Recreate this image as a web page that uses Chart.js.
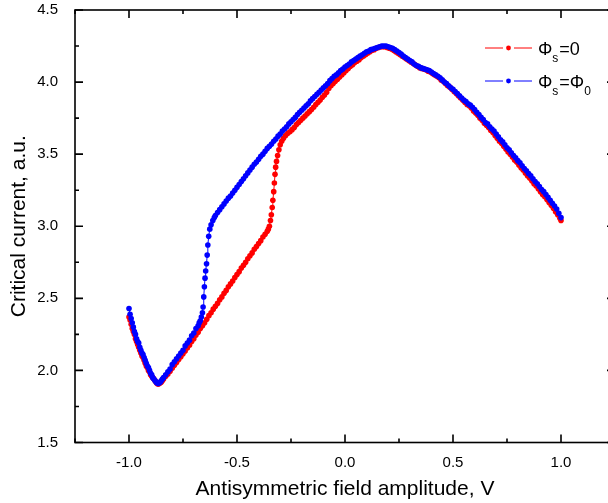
<!DOCTYPE html>
<html>
<head>
<meta charset="utf-8">
<script src="https://cdn.jsdelivr.net/npm/chart.js@4/dist/chart.umd.min.js"></script>
<style>
  html, body { margin: 0; padding: 0; background: #fff; overflow: hidden; }
  #wrap { width: 620px; height: 503px; }
</style>
</head>
<body>
<div id="wrap"><canvas id="c" width="620" height="503"></canvas></div>
<script>
// ---------- data ----------
const seriesNames = ["Φs=0", "Φs=Φ0"];

const redX = [-1.000,-0.995,-0.990,-0.985,-0.980,-0.975,-0.970,-0.965,-0.960,-0.955,-0.950,-0.945,-0.940,-0.935,-0.930,-0.925,-0.920,-0.915,-0.910,-0.905,-0.900,-0.895,-0.890,-0.885,-0.880,-0.875,-0.870,-0.865,-0.860,-0.855,-0.850,-0.845,-0.840,-0.830,-0.820,-0.810,-0.800,-0.790,-0.780,-0.770,-0.760,-0.750,-0.740,-0.730,-0.720,-0.710,-0.700,-0.690,-0.680,-0.670,-0.660,-0.650,-0.640,-0.630,-0.620,-0.610,-0.600,-0.590,-0.580,-0.570,-0.560,-0.550,-0.540,-0.530,-0.520,-0.510,-0.500,-0.490,-0.480,-0.470,-0.460,-0.450,-0.440,-0.430,-0.420,-0.410,-0.400,-0.390,-0.380,-0.370,-0.360,-0.355,-0.350,-0.345,-0.341,-0.337,-0.334,-0.330,-0.327,-0.324,-0.321,-0.317,-0.312,-0.306,-0.300,-0.293,-0.285,-0.275,-0.265,-0.255,-0.245,-0.235,-0.225,-0.215,-0.205,-0.195,-0.185,-0.175,-0.165,-0.155,-0.145,-0.135,-0.125,-0.115,-0.105,-0.095,-0.085,-0.075,-0.065,-0.055,-0.045,-0.035,-0.025,-0.015,-0.005,0.005,0.015,0.025,0.035,0.045,0.055,0.065,0.075,0.085,0.095,0.105,0.115,0.125,0.135,0.145,0.155,0.165,0.175,0.185,0.195,0.205,0.215,0.225,0.235,0.245,0.255,0.265,0.275,0.285,0.295,0.305,0.315,0.325,0.335,0.345,0.355,0.365,0.375,0.385,0.395,0.405,0.415,0.425,0.435,0.445,0.455,0.465,0.475,0.485,0.495,0.505,0.515,0.525,0.535,0.545,0.555,0.565,0.575,0.585,0.595,0.605,0.615,0.625,0.635,0.645,0.655,0.665,0.675,0.685,0.695,0.705,0.715,0.725,0.735,0.745,0.755,0.765,0.775,0.785,0.795,0.805,0.815,0.825,0.835,0.845,0.855,0.865,0.875,0.885,0.895,0.905,0.915,0.925,0.935,0.945,0.955,0.965,0.975,0.985,0.995,1.000];
const redY = [2.37,2.35,2.32,2.29,2.27,2.25,2.22,2.20,2.18,2.16,2.14,2.12,2.10,2.09,2.07,2.05,2.03,2.02,2.00,1.99,1.97,1.96,1.95,1.94,1.93,1.92,1.91,1.905,1.91,1.915,1.92,1.93,1.94,1.96,1.975,1.995,2.015,2.035,2.055,2.075,2.095,2.115,2.135,2.155,2.175,2.20,2.22,2.245,2.265,2.29,2.31,2.33,2.355,2.38,2.40,2.425,2.445,2.465,2.49,2.51,2.535,2.555,2.58,2.60,2.62,2.645,2.665,2.685,2.71,2.73,2.75,2.775,2.795,2.815,2.84,2.86,2.88,2.90,2.925,2.945,2.965,2.98,3.00,3.04,3.08,3.13,3.18,3.24,3.30,3.36,3.41,3.45,3.49,3.53,3.565,3.59,3.61,3.63,3.645,3.655,3.67,3.685,3.705,3.72,3.735,3.75,3.765,3.78,3.795,3.81,3.825,3.845,3.86,3.875,3.895,3.91,3.93,3.955,3.975,3.99,4.005,4.02,4.035,4.05,4.065,4.08,4.095,4.11,4.12,4.135,4.145,4.155,4.17,4.18,4.19,4.20,4.21,4.22,4.225,4.235,4.24,4.245,4.245,4.245,4.24,4.235,4.23,4.22,4.21,4.20,4.19,4.18,4.17,4.16,4.15,4.14,4.13,4.12,4.11,4.10,4.095,4.09,4.085,4.075,4.07,4.06,4.05,4.04,4.03,4.015,4.005,3.99,3.975,3.965,3.95,3.935,3.92,3.905,3.89,3.875,3.86,3.845,3.835,3.82,3.80,3.785,3.77,3.75,3.735,3.715,3.70,3.685,3.665,3.65,3.63,3.61,3.59,3.575,3.555,3.535,3.515,3.50,3.48,3.46,3.445,3.425,3.405,3.39,3.37,3.35,3.335,3.315,3.295,3.28,3.26,3.24,3.22,3.205,3.185,3.165,3.145,3.125,3.10,3.08,3.055,3.04];

const blueX = [-1.000,-0.995,-0.990,-0.985,-0.980,-0.975,-0.970,-0.965,-0.960,-0.955,-0.950,-0.945,-0.940,-0.935,-0.930,-0.925,-0.920,-0.915,-0.910,-0.905,-0.900,-0.895,-0.890,-0.885,-0.880,-0.875,-0.870,-0.865,-0.860,-0.855,-0.850,-0.845,-0.840,-0.830,-0.820,-0.810,-0.800,-0.790,-0.780,-0.770,-0.760,-0.750,-0.740,-0.730,-0.720,-0.710,-0.700,-0.690,-0.680,-0.675,-0.670,-0.665,-0.660,-0.657,-0.654,-0.651,-0.648,-0.645,-0.641,-0.638,-0.635,-0.631,-0.626,-0.620,-0.612,-0.605,-0.600,-0.590,-0.580,-0.570,-0.560,-0.550,-0.540,-0.530,-0.520,-0.510,-0.500,-0.490,-0.480,-0.470,-0.460,-0.450,-0.440,-0.430,-0.420,-0.410,-0.400,-0.390,-0.380,-0.370,-0.360,-0.350,-0.340,-0.330,-0.320,-0.310,-0.300,-0.290,-0.280,-0.270,-0.260,-0.250,-0.240,-0.230,-0.220,-0.210,-0.200,-0.190,-0.180,-0.170,-0.160,-0.150,-0.140,-0.130,-0.120,-0.110,-0.100,-0.090,-0.080,-0.070,-0.060,-0.050,-0.040,-0.030,-0.020,-0.010,0.000,0.010,0.020,0.030,0.040,0.050,0.060,0.070,0.080,0.090,0.100,0.110,0.120,0.130,0.140,0.150,0.160,0.170,0.180,0.190,0.200,0.210,0.220,0.230,0.240,0.250,0.260,0.270,0.280,0.290,0.300,0.310,0.320,0.330,0.340,0.350,0.360,0.370,0.380,0.390,0.400,0.410,0.420,0.430,0.440,0.450,0.460,0.470,0.480,0.490,0.500,0.510,0.520,0.530,0.540,0.550,0.560,0.570,0.580,0.590,0.600,0.610,0.620,0.630,0.640,0.650,0.660,0.670,0.680,0.690,0.700,0.710,0.720,0.730,0.740,0.750,0.760,0.770,0.780,0.790,0.800,0.810,0.820,0.830,0.840,0.850,0.860,0.870,0.880,0.890,0.900,0.910,0.920,0.930,0.940,0.950,0.960,0.970,0.980,0.990,1.000];
const blueY = [2.43,2.39,2.36,2.33,2.30,2.27,2.25,2.22,2.20,2.19,2.16,2.14,2.12,2.11,2.09,2.07,2.05,2.03,2.02,2.00,1.98,1.97,1.95,1.94,1.93,1.92,1.915,1.91,1.915,1.92,1.93,1.94,1.95,1.97,1.99,2.01,2.04,2.06,2.08,2.10,2.12,2.14,2.17,2.19,2.21,2.24,2.26,2.29,2.31,2.33,2.345,2.37,2.40,2.44,2.51,2.58,2.64,2.69,2.74,2.80,2.87,2.93,2.98,3.01,3.04,3.06,3.075,3.095,3.115,3.135,3.155,3.175,3.195,3.21,3.23,3.25,3.27,3.29,3.31,3.33,3.35,3.37,3.39,3.41,3.43,3.445,3.465,3.485,3.50,3.52,3.54,3.555,3.57,3.59,3.605,3.625,3.64,3.66,3.675,3.69,3.71,3.725,3.74,3.755,3.775,3.79,3.805,3.82,3.835,3.85,3.87,3.885,3.90,3.915,3.93,3.945,3.96,3.975,3.99,4.01,4.025,4.04,4.05,4.065,4.08,4.09,4.105,4.115,4.125,4.14,4.15,4.16,4.17,4.18,4.19,4.20,4.21,4.215,4.225,4.23,4.235,4.24,4.245,4.25,4.25,4.25,4.245,4.24,4.235,4.225,4.215,4.205,4.195,4.18,4.17,4.16,4.15,4.14,4.125,4.115,4.11,4.10,4.095,4.09,4.085,4.08,4.07,4.06,4.05,4.04,4.03,4.015,4.00,3.99,3.975,3.96,3.95,3.935,3.92,3.905,3.89,3.875,3.865,3.85,3.84,3.825,3.81,3.79,3.775,3.755,3.74,3.72,3.71,3.69,3.675,3.66,3.64,3.62,3.60,3.585,3.565,3.545,3.53,3.51,3.49,3.475,3.455,3.44,3.42,3.40,3.385,3.365,3.35,3.33,3.31,3.295,3.275,3.255,3.24,3.22,3.20,3.18,3.16,3.14,3.12,3.09,3.06];

const xRange = [-1.25, 1.25];
const yRange = [1.5, 4.5];
const xMajorTicks = [-1.0, -0.5, 0.0, 0.5, 1.0];
const xMinorTicks = [-1.25, -0.75, -0.25, 0.25, 0.75, 1.25];
const yMajorTicks = [1.5, 2.0, 2.5, 3.0, 3.5, 4.0, 4.5];
const yMinorTicks = [1.75, 2.25, 2.75, 3.25, 3.75, 4.25];
const xTitle = "Antisymmetric field amplitude, V";
const yTitle = "Critical current, a.u.";

// ---------- chart ----------
const RED = "#ff0000", BLUE = "#0000ff";
const FONT = "'Liberation Sans', Arial, sans-serif";

function toPoints(xs, ys) { return xs.map((x, i) => ({ x: x, y: ys[i] })); }

const frameTicks = {
  id: 'frameTicks',
  afterDraw(chart) {
    const { ctx, chartArea: a, scales } = chart;
    const sx = scales.x, sy = scales.y;
    ctx.save();
    ctx.strokeStyle = '#000';
    ctx.lineWidth = 1.6;
    ctx.strokeRect(a.left, a.top, a.right - a.left, a.bottom - a.top);
    ctx.beginPath();
    const maj = 8, min = 4;
    xMajorTicks.forEach(v => { const p = sx.getPixelForValue(v);
      ctx.moveTo(p, a.bottom); ctx.lineTo(p, a.bottom - maj);
      ctx.moveTo(p, a.top); ctx.lineTo(p, a.top + maj); });
    xMinorTicks.forEach(v => { const p = sx.getPixelForValue(v);
      ctx.moveTo(p, a.bottom); ctx.lineTo(p, a.bottom - min);
      ctx.moveTo(p, a.top); ctx.lineTo(p, a.top + min); });
    yMajorTicks.forEach(v => { const p = sy.getPixelForValue(v);
      ctx.moveTo(a.left, p); ctx.lineTo(a.left + maj, p);
      ctx.moveTo(a.right, p); ctx.lineTo(a.right - maj, p); });
    yMinorTicks.forEach(v => { const p = sy.getPixelForValue(v);
      ctx.moveTo(a.left, p); ctx.lineTo(a.left + min, p);
      ctx.moveTo(a.right, p); ctx.lineTo(a.right - min, p); });
    ctx.stroke();

    // legend
    const entries = [
      { color: RED, y: 48, parts: [["Φ", 0], ["s", 1], ["=0", 0]] },
      { color: BLUE, y: 81, parts: [["Φ", 0], ["s", 1], ["=Φ", 0], ["0", 1]] }
    ];
    entries.forEach(e => {
      ctx.strokeStyle = e.color;
      ctx.lineWidth = 1;
      ctx.beginPath();
      ctx.moveTo(485, e.y); ctx.lineTo(503, e.y);
      ctx.moveTo(514, e.y); ctx.lineTo(532, e.y);
      ctx.stroke();
      ctx.fillStyle = e.color;
      ctx.beginPath(); ctx.arc(508.5, e.y, 2.4, 0, Math.PI * 2); ctx.fill();
      ctx.fillStyle = '#000';
      ctx.textBaseline = 'alphabetic';
      let x = 538;
      e.parts.forEach(([t, sub]) => {
        ctx.font = (sub ? '12px ' : '18px ') + FONT;
        ctx.fillText(t, x, sub ? e.y + 14 : e.y + 7);
        x += ctx.measureText(t).width + (sub ? 1 : 0);
      });
    });
    ctx.restore();
  }
};

new Chart(document.getElementById('c'), {
  type: 'scatter',
  data: {
    datasets: [
      { label: seriesNames[0], data: toPoints(redX, redY), showLine: true,
        borderColor: RED, backgroundColor: RED, borderWidth: 1,
        pointRadius: 2.8, pointBorderWidth: 0, pointHoverRadius: 2.8, order: 1 },
      { label: seriesNames[1], data: toPoints(blueX, blueY), showLine: true,
        borderColor: BLUE, backgroundColor: BLUE, borderWidth: 1,
        pointRadius: 2.8, pointBorderWidth: 0, pointHoverRadius: 2.8, order: 0 }
    ]
  },
  options: {
    responsive: false,
    animation: false,
    events: [],
    layout: { padding: { left: 0, top: 10, right: 5, bottom: 0 } },
    plugins: { legend: { display: false }, tooltip: { enabled: false } },
    scales: {
      x: {
        type: 'linear', min: xRange[0], max: xRange[1],
        grid: { display: false, drawTicks: false },
        border: { display: false },
        afterBuildTicks: s => { s.ticks = xMajorTicks.map(v => ({ value: v })); },
        afterFit: s => { s.height = 60.5; s.paddingLeft = 0; s.paddingRight = 0; },
        ticks: { color: '#000', padding: 11, font: { family: FONT, size: 15 },
                 callback: v => Number(v).toFixed(1), maxRotation: 0, autoSkip: false },
        title: { display: true, text: xTitle, color: '#000',
                 font: { family: FONT, size: 21 }, padding: { top: 0, bottom: 1.5 } }
      },
      y: {
        type: 'linear', min: yRange[0], max: yRange[1],
        grid: { display: false, drawTicks: false },
        border: { display: false },
        afterBuildTicks: s => { s.ticks = yMajorTicks.map(v => ({ value: v })); },
        afterFit: s => { s.width = 75; s.paddingTop = 0; s.paddingBottom = 0; },
        ticks: { color: '#000', padding: 17, font: { family: FONT, size: 15 },
                 callback: v => Number(v).toFixed(1), autoSkip: false },
        title: { display: true, text: yTitle, color: '#000',
                 font: { family: FONT, size: 21 }, padding: { top: 6.5, bottom: 0 } }
      }
    }
  },
  plugins: [frameTicks]
});
</script>
</body>
</html>
